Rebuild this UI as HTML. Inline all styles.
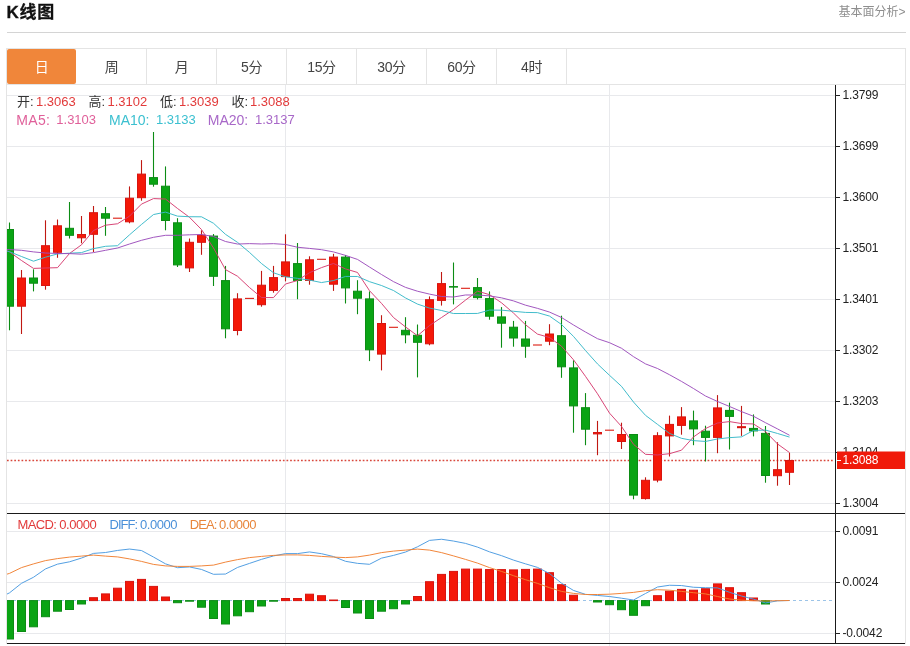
<!DOCTYPE html>
<html lang="zh-CN"><head><meta charset="utf-8"><title>K线图</title>
<style>
html,body{margin:0;padding:0;background:#fff;}
body{width:910px;height:646px;position:relative;overflow:hidden;font-family:"Liberation Sans","Noto Sans CJK SC",sans-serif;}
.abs{position:absolute;white-space:nowrap;}
.title{left:6.5px;top:0.5px;font-size:17px;letter-spacing:.7px;-webkit-text-stroke:.3px #111;font-weight:bold;color:#111;line-height:24px;}
.more{right:4.5px;top:3.5px;font-size:12px;color:#8e8e8e;line-height:16px;}
.hr{left:7px;top:32px;width:899px;height:1px;background:#d4d4d4;}
.tabs{left:6px;top:48px;width:898px;height:35px;border:1px solid #e4e4e4;border-bottom:1px solid #e4e4e4;box-sizing:content-box;}
.tab{position:absolute;top:0;height:35px;width:70px;box-sizing:border-box;border-right:1px solid #e4e4e4;text-align:center;line-height:36px;font-size:14px;color:#444;letter-spacing:-.4px}
.tab.on{background:#f0863a;color:#fff;border-right:none;border-radius:2px;top:-0.5px;height:35.5px;width:69px;line-height:37px}
.frame{left:6px;top:84px;width:898px;height:560px;border-left:1px solid #e4e4e4;border-right:1px solid #e4e4e4;}
.l1{top:93.7px;font-size:13px;line-height:16px;}
.l2{top:111.8px;font-size:13px;line-height:16px;}
.l3{top:516.5px;font-size:13px;line-height:16px;letter-spacing:-0.45px}
.lb{font-size:14px;letter-spacing:.3px}
.k{color:#333}.r{color:#e23a3a}.p{color:#e0609a}.c{color:#3cc0d0}.v{color:#a868c8}.b{color:#4a90d9}.o{color:#e8853a}
</style></head><body>
<div class="abs title">K线图</div>
<div class="abs more">基本面分析&gt;</div>
<div class="abs hr"></div>
<div class="abs frame"></div>
<div class="abs tabs">
<div class="tab on" style="left:0px">日</div>
<div class="tab" style="left:70px">周</div>
<div class="tab" style="left:140px">月</div>
<div class="tab" style="left:210px">5分</div>
<div class="tab" style="left:280px">15分</div>
<div class="tab" style="left:350px">30分</div>
<div class="tab" style="left:420px">60分</div>
<div class="tab" style="left:490px">4时</div>
</div>
<svg width="910" height="646" viewBox="0 0 910 646" style="position:absolute;left:0;top:0">
<defs><clipPath id="cp"><rect x="7" y="85" width="828" height="560"/></clipPath></defs>
<g stroke="#e8e9ec" stroke-width="1" shape-rendering="crispEdges"><line x1="7" y1="95.5" x2="835" y2="95.5"/><line x1="7" y1="146.5" x2="835" y2="146.5"/><line x1="7" y1="197.5" x2="835" y2="197.5"/><line x1="7" y1="248.5" x2="835" y2="248.5"/><line x1="7" y1="299.5" x2="835" y2="299.5"/><line x1="7" y1="350.5" x2="835" y2="350.5"/><line x1="7" y1="401.5" x2="835" y2="401.5"/><line x1="7" y1="452.5" x2="835" y2="452.5"/><line x1="7" y1="503.5" x2="835" y2="503.5"/><line x1="7" y1="531.5" x2="835" y2="531.5"/><line x1="7" y1="582.5" x2="835" y2="582.5"/><line x1="7" y1="633.5" x2="835" y2="633.5"/><line x1="285.5" y1="85" x2="285.5" y2="646"/><line x1="609.5" y1="85" x2="609.5" y2="646"/></g>
<line x1="7" y1="600.5" x2="835" y2="600.5" stroke="#9cc4e8" stroke-width="1" stroke-dasharray="3,3"/>
<line x1="7" y1="460.5" x2="834" y2="460.5" stroke="#d8463a" stroke-width="1.35" stroke-dasharray="1.7,1.93"/>
<g clip-path="url(#cp)"><line x1="9.5" y1="222.5" x2="9.5" y2="330.3" stroke="#0c8c14" stroke-width="1.1"/><rect x="5.5" y="229.5" width="8" height="76.7" fill="#0aa414" stroke="#0c8c14" stroke-width="1"/><line x1="21.5" y1="270" x2="21.5" y2="334" stroke="#c01812" stroke-width="1.1"/><rect x="17.5" y="278" width="8" height="28.2" fill="#f41808" stroke="#d81410" stroke-width="1"/><line x1="33.5" y1="269.3" x2="33.5" y2="291.4" stroke="#0c8c14" stroke-width="1.1"/><rect x="29.5" y="278" width="8" height="5.2" fill="#0aa414" stroke="#0c8c14" stroke-width="1"/><line x1="45.5" y1="220.3" x2="45.5" y2="289.7" stroke="#c01812" stroke-width="1.1"/><rect x="41.5" y="245.7" width="8" height="39.8" fill="#f41808" stroke="#d81410" stroke-width="1"/><line x1="57.5" y1="219.5" x2="57.5" y2="257.8" stroke="#c01812" stroke-width="1.1"/><rect x="53.5" y="225.8" width="8" height="26.5" fill="#f41808" stroke="#d81410" stroke-width="1"/><line x1="69.5" y1="202" x2="69.5" y2="238.5" stroke="#0c8c14" stroke-width="1.1"/><rect x="65.5" y="228.3" width="8" height="7" fill="#0aa414" stroke="#0c8c14" stroke-width="1"/><line x1="81.5" y1="216" x2="81.5" y2="243.3" stroke="#c01812" stroke-width="1.1"/><rect x="77.5" y="234.5" width="8" height="3.3" fill="#f41808" stroke="#d81410" stroke-width="1"/><line x1="93.5" y1="206" x2="93.5" y2="252" stroke="#c01812" stroke-width="1.1"/><rect x="89.5" y="212.7" width="8" height="21.6" fill="#f41808" stroke="#d81410" stroke-width="1"/><line x1="105.5" y1="207" x2="105.5" y2="235.8" stroke="#0c8c14" stroke-width="1.1"/><rect x="101.5" y="213.7" width="8" height="4.5" fill="#0aa414" stroke="#0c8c14" stroke-width="1"/><line x1="113" y1="218.2" x2="122" y2="218.2" stroke="#dc1c12" stroke-width="1.1"/><line x1="129.5" y1="186.4" x2="129.5" y2="223.3" stroke="#c01812" stroke-width="1.1"/><rect x="125.5" y="198.2" width="8" height="23.6" fill="#f41808" stroke="#d81410" stroke-width="1"/><line x1="141.5" y1="160.1" x2="141.5" y2="200.7" stroke="#c01812" stroke-width="1.1"/><rect x="137.5" y="174.1" width="8" height="23.6" fill="#f41808" stroke="#d81410" stroke-width="1"/><line x1="153.5" y1="132" x2="153.5" y2="186.7" stroke="#0c8c14" stroke-width="1.1"/><rect x="149.5" y="177.6" width="8" height="6.6" fill="#0aa414" stroke="#0c8c14" stroke-width="1"/><line x1="165.5" y1="166.4" x2="165.5" y2="230.3" stroke="#0c8c14" stroke-width="1.1"/><rect x="161.5" y="186.2" width="8" height="34.3" fill="#0aa414" stroke="#0c8c14" stroke-width="1"/><line x1="177.5" y1="218.2" x2="177.5" y2="267" stroke="#0c8c14" stroke-width="1.1"/><rect x="173.5" y="222.8" width="8" height="42.1" fill="#0aa414" stroke="#0c8c14" stroke-width="1"/><line x1="189.5" y1="238.5" x2="189.5" y2="272" stroke="#c01812" stroke-width="1.1"/><rect x="185.5" y="242.3" width="8" height="25.6" fill="#f41808" stroke="#d81410" stroke-width="1"/><line x1="201.5" y1="230.3" x2="201.5" y2="254.8" stroke="#c01812" stroke-width="1.1"/><rect x="197.5" y="235.3" width="8" height="7" fill="#f41808" stroke="#d81410" stroke-width="1"/><line x1="213.5" y1="234" x2="213.5" y2="286" stroke="#0c8c14" stroke-width="1.1"/><rect x="209.5" y="236.1" width="8" height="40.2" fill="#0aa414" stroke="#0c8c14" stroke-width="1"/><line x1="225.5" y1="265.9" x2="225.5" y2="338.3" stroke="#0c8c14" stroke-width="1.1"/><rect x="221.5" y="280.6" width="8" height="48.2" fill="#0aa414" stroke="#0c8c14" stroke-width="1"/><line x1="237.5" y1="293.2" x2="237.5" y2="335.3" stroke="#c01812" stroke-width="1.1"/><rect x="233.5" y="298.9" width="8" height="31.6" fill="#f41808" stroke="#d81410" stroke-width="1"/><line x1="245" y1="298.4" x2="254" y2="298.4" stroke="#dc1c12" stroke-width="1.1"/><line x1="261.5" y1="270.9" x2="261.5" y2="306.7" stroke="#c01812" stroke-width="1.1"/><rect x="257.5" y="285.2" width="8" height="19.5" fill="#f41808" stroke="#d81410" stroke-width="1"/><line x1="273.5" y1="265.9" x2="273.5" y2="292.7" stroke="#c01812" stroke-width="1.1"/><rect x="269.5" y="277.6" width="8" height="12.8" fill="#f41808" stroke="#d81410" stroke-width="1"/><line x1="285.5" y1="234.3" x2="285.5" y2="281.4" stroke="#c01812" stroke-width="1.1"/><rect x="281.5" y="261.9" width="8" height="14.7" fill="#f41808" stroke="#d81410" stroke-width="1"/><line x1="297.5" y1="243" x2="297.5" y2="299.2" stroke="#0c8c14" stroke-width="1.1"/><rect x="293.5" y="263.6" width="8" height="16.8" fill="#0aa414" stroke="#0c8c14" stroke-width="1"/><line x1="309.5" y1="256.3" x2="309.5" y2="284.7" stroke="#c01812" stroke-width="1.1"/><rect x="305.5" y="259.8" width="8" height="20.6" fill="#f41808" stroke="#d81410" stroke-width="1"/><line x1="317" y1="259.3" x2="326" y2="259.3" stroke="#dc1c12" stroke-width="1.1"/><line x1="333.5" y1="253.8" x2="333.5" y2="290.9" stroke="#c01812" stroke-width="1.1"/><rect x="329.5" y="257.1" width="8" height="27.1" fill="#f41808" stroke="#d81410" stroke-width="1"/><line x1="345.5" y1="255" x2="345.5" y2="303.5" stroke="#0c8c14" stroke-width="1.1"/><rect x="341.5" y="257.1" width="8" height="30.8" fill="#0aa414" stroke="#0c8c14" stroke-width="1"/><line x1="357.5" y1="280.2" x2="357.5" y2="314.2" stroke="#0c8c14" stroke-width="1.1"/><rect x="353.5" y="291.2" width="8" height="7" fill="#0aa414" stroke="#0c8c14" stroke-width="1"/><line x1="369.5" y1="291.4" x2="369.5" y2="361.1" stroke="#0c8c14" stroke-width="1.1"/><rect x="365.5" y="298.9" width="8" height="50.9" fill="#0aa414" stroke="#0c8c14" stroke-width="1"/><line x1="381.5" y1="315.2" x2="381.5" y2="370.4" stroke="#c01812" stroke-width="1.1"/><rect x="377.5" y="323.5" width="8" height="30.6" fill="#f41808" stroke="#d81410" stroke-width="1"/><line x1="389" y1="327.3" x2="398" y2="327.3" stroke="#dc1c12" stroke-width="1.1"/><line x1="405.5" y1="317.2" x2="405.5" y2="343.3" stroke="#0c8c14" stroke-width="1.1"/><rect x="401.5" y="330.3" width="8" height="4.5" fill="#0aa414" stroke="#0c8c14" stroke-width="1"/><line x1="417.5" y1="324.5" x2="417.5" y2="377.4" stroke="#0c8c14" stroke-width="1.1"/><rect x="413.5" y="335.3" width="8" height="7" fill="#0aa414" stroke="#0c8c14" stroke-width="1"/><line x1="429.5" y1="296.4" x2="429.5" y2="345.3" stroke="#c01812" stroke-width="1.1"/><rect x="425.5" y="299.7" width="8" height="44.1" fill="#f41808" stroke="#d81410" stroke-width="1"/><line x1="441.5" y1="272" x2="441.5" y2="305.6" stroke="#c01812" stroke-width="1.1"/><rect x="437.5" y="283.6" width="8" height="16.8" fill="#f41808" stroke="#d81410" stroke-width="1"/><line x1="453.5" y1="262.5" x2="453.5" y2="304.4" stroke="#0c8c14" stroke-width="1.1"/><rect x="449.5" y="286.6" width="8" height="0.5" fill="#0aa414" stroke="#0c8c14" stroke-width="1"/><line x1="461" y1="288.3" x2="470" y2="288.3" stroke="#dc1c12" stroke-width="1.1"/><line x1="477.5" y1="278" x2="477.5" y2="299.4" stroke="#0c8c14" stroke-width="1.1"/><rect x="473.5" y="287.6" width="8" height="10" fill="#0aa414" stroke="#0c8c14" stroke-width="1"/><line x1="489.5" y1="291.4" x2="489.5" y2="319.7" stroke="#0c8c14" stroke-width="1.1"/><rect x="485.5" y="298.6" width="8" height="17.6" fill="#0aa414" stroke="#0c8c14" stroke-width="1"/><line x1="501.5" y1="307.1" x2="501.5" y2="347.7" stroke="#0c8c14" stroke-width="1.1"/><rect x="497.5" y="316.9" width="8" height="6.3" fill="#0aa414" stroke="#0c8c14" stroke-width="1"/><line x1="513.5" y1="320.9" x2="513.5" y2="346.7" stroke="#0c8c14" stroke-width="1.1"/><rect x="509.5" y="327.2" width="8" height="10.8" fill="#0aa414" stroke="#0c8c14" stroke-width="1"/><line x1="525.5" y1="320.9" x2="525.5" y2="357.8" stroke="#0c8c14" stroke-width="1.1"/><rect x="521.5" y="339" width="8" height="7.2" fill="#0aa414" stroke="#0c8c14" stroke-width="1"/><line x1="533" y1="345" x2="542" y2="345" stroke="#dc1c12" stroke-width="1.1"/><line x1="549.5" y1="324.2" x2="549.5" y2="345.2" stroke="#c01812" stroke-width="1.1"/><rect x="545.5" y="334" width="8" height="7.2" fill="#f41808" stroke="#d81410" stroke-width="1"/><line x1="561.5" y1="315.7" x2="561.5" y2="377.8" stroke="#0c8c14" stroke-width="1.1"/><rect x="557.5" y="335.7" width="8" height="31.1" fill="#0aa414" stroke="#0c8c14" stroke-width="1"/><line x1="573.5" y1="360.3" x2="573.5" y2="432.7" stroke="#0c8c14" stroke-width="1.1"/><rect x="569.5" y="367.9" width="8" height="38" fill="#0aa414" stroke="#0c8c14" stroke-width="1"/><line x1="585.5" y1="393.1" x2="585.5" y2="445.2" stroke="#0c8c14" stroke-width="1.1"/><rect x="581.5" y="407.7" width="8" height="21.5" fill="#0aa414" stroke="#0c8c14" stroke-width="1"/><line x1="597.5" y1="420.9" x2="597.5" y2="455.2" stroke="#c01812" stroke-width="1.1"/><rect x="593.5" y="432.5" width="8" height="1.4" fill="#f41808" stroke="#d81410" stroke-width="1"/><line x1="605" y1="430.2" x2="614" y2="430.2" stroke="#dc1c12" stroke-width="1.1"/><line x1="621.5" y1="422.7" x2="621.5" y2="449" stroke="#c01812" stroke-width="1.1"/><rect x="617.5" y="434.5" width="8" height="7" fill="#f41808" stroke="#d81410" stroke-width="1"/><line x1="633.5" y1="434" x2="633.5" y2="499.3" stroke="#0c8c14" stroke-width="1.1"/><rect x="629.5" y="434.5" width="8" height="60.6" fill="#0aa414" stroke="#0c8c14" stroke-width="1"/><line x1="645.5" y1="477.3" x2="645.5" y2="499.6" stroke="#c01812" stroke-width="1.1"/><rect x="641.5" y="480.3" width="8" height="18.3" fill="#f41808" stroke="#d81410" stroke-width="1"/><line x1="657.5" y1="432.2" x2="657.5" y2="482.3" stroke="#c01812" stroke-width="1.1"/><rect x="653.5" y="435.7" width="8" height="44.4" fill="#f41808" stroke="#d81410" stroke-width="1"/><line x1="669.5" y1="415.6" x2="669.5" y2="456.5" stroke="#c01812" stroke-width="1.1"/><rect x="665.5" y="424.4" width="8" height="11.5" fill="#f41808" stroke="#d81410" stroke-width="1"/><line x1="681.5" y1="407.1" x2="681.5" y2="434.7" stroke="#c01812" stroke-width="1.1"/><rect x="677.5" y="416.9" width="8" height="8.5" fill="#f41808" stroke="#d81410" stroke-width="1"/><line x1="693.5" y1="410.6" x2="693.5" y2="445.2" stroke="#0c8c14" stroke-width="1.1"/><rect x="689.5" y="420.9" width="8" height="8" fill="#0aa414" stroke="#0c8c14" stroke-width="1"/><line x1="705.5" y1="425.7" x2="705.5" y2="461.5" stroke="#0c8c14" stroke-width="1.1"/><rect x="701.5" y="431.2" width="8" height="6.2" fill="#0aa414" stroke="#0c8c14" stroke-width="1"/><line x1="717.5" y1="395.1" x2="717.5" y2="453.2" stroke="#c01812" stroke-width="1.1"/><rect x="713.5" y="407.9" width="8" height="29.5" fill="#f41808" stroke="#d81410" stroke-width="1"/><line x1="729.5" y1="402.6" x2="729.5" y2="449.5" stroke="#0c8c14" stroke-width="1.1"/><rect x="725.5" y="410.4" width="8" height="6" fill="#0aa414" stroke="#0c8c14" stroke-width="1"/><line x1="741.5" y1="405.9" x2="741.5" y2="435.9" stroke="#c01812" stroke-width="1.1"/><rect x="737.5" y="426.7" width="8" height="1" fill="#f41808" stroke="#d81410" stroke-width="1"/><line x1="753.5" y1="414.4" x2="753.5" y2="436.4" stroke="#0c8c14" stroke-width="1.1"/><rect x="749.5" y="428.4" width="8" height="2.5" fill="#0aa414" stroke="#0c8c14" stroke-width="1"/><line x1="765.5" y1="426" x2="765.5" y2="482.7" stroke="#0c8c14" stroke-width="1.1"/><rect x="761.5" y="433.4" width="8" height="42.1" fill="#0aa414" stroke="#0c8c14" stroke-width="1"/><line x1="777.5" y1="442.2" x2="777.5" y2="485.7" stroke="#c01812" stroke-width="1.1"/><rect x="773.5" y="469.7" width="8" height="6" fill="#f41808" stroke="#d81410" stroke-width="1"/><line x1="789.5" y1="452.7" x2="789.5" y2="485" stroke="#c01812" stroke-width="1.1"/><rect x="785.5" y="460.5" width="8" height="11.8" fill="#f41808" stroke="#d81410" stroke-width="1"/><rect x="5.5" y="600.6" width="8" height="38.4" fill="#0aa414" stroke="#0c8c14" stroke-width="1"/><rect x="17.5" y="600.6" width="8" height="30.9" fill="#0aa414" stroke="#0c8c14" stroke-width="1"/><rect x="29.5" y="600.6" width="8" height="26.2" fill="#0aa414" stroke="#0c8c14" stroke-width="1"/><rect x="41.5" y="600.6" width="8" height="16.1" fill="#0aa414" stroke="#0c8c14" stroke-width="1"/><rect x="53.5" y="600.6" width="8" height="10.6" fill="#0aa414" stroke="#0c8c14" stroke-width="1"/><rect x="65.5" y="600.6" width="8" height="8.9" fill="#0aa414" stroke="#0c8c14" stroke-width="1"/><rect x="77.5" y="600.6" width="8" height="3.4" fill="#0aa414" stroke="#0c8c14" stroke-width="1"/><rect x="89.5" y="597.7" width="8" height="2.9" fill="#f41808" stroke="#d81410" stroke-width="1"/><rect x="101.5" y="593.9" width="8" height="6.7" fill="#f41808" stroke="#d81410" stroke-width="1"/><rect x="113.5" y="588.2" width="8" height="12.4" fill="#f41808" stroke="#d81410" stroke-width="1"/><rect x="125.5" y="581.4" width="8" height="19.2" fill="#f41808" stroke="#d81410" stroke-width="1"/><rect x="137.5" y="579.4" width="8" height="21.2" fill="#f41808" stroke="#d81410" stroke-width="1"/><rect x="149.5" y="586.4" width="8" height="14.2" fill="#f41808" stroke="#d81410" stroke-width="1"/><rect x="161.5" y="597" width="8" height="3.6" fill="#f41808" stroke="#d81410" stroke-width="1"/><rect x="173.5" y="600.6" width="8" height="2.1" fill="#0aa414" stroke="#0c8c14" stroke-width="1"/><rect x="185.5" y="600.6" width="8" height="0.6" fill="#0aa414" stroke="#0c8c14" stroke-width="1"/><rect x="197.5" y="600.6" width="8" height="6.6" fill="#0aa414" stroke="#0c8c14" stroke-width="1"/><rect x="209.5" y="600.6" width="8" height="17.9" fill="#0aa414" stroke="#0c8c14" stroke-width="1"/><rect x="221.5" y="600.6" width="8" height="23.4" fill="#0aa414" stroke="#0c8c14" stroke-width="1"/><rect x="233.5" y="600.6" width="8" height="15.2" fill="#0aa414" stroke="#0c8c14" stroke-width="1"/><rect x="245.5" y="600.6" width="8" height="11.1" fill="#0aa414" stroke="#0c8c14" stroke-width="1"/><rect x="257.5" y="600.6" width="8" height="5.4" fill="#0aa414" stroke="#0c8c14" stroke-width="1"/><rect x="269.5" y="600.6" width="8" height="0.6" fill="#0aa414" stroke="#0c8c14" stroke-width="1"/><rect x="281.5" y="598.5" width="8" height="2.1" fill="#f41808" stroke="#d81410" stroke-width="1"/><rect x="293.5" y="598.5" width="8" height="2.1" fill="#f41808" stroke="#d81410" stroke-width="1"/><rect x="305.5" y="594.2" width="8" height="6.4" fill="#f41808" stroke="#d81410" stroke-width="1"/><rect x="317.5" y="595.7" width="8" height="4.9" fill="#f41808" stroke="#d81410" stroke-width="1"/><rect x="329.5" y="600" width="8" height="0.6" fill="#f41808" stroke="#d81410" stroke-width="1"/><rect x="341.5" y="600.6" width="8" height="6.9" fill="#0aa414" stroke="#0c8c14" stroke-width="1"/><rect x="353.5" y="600.6" width="8" height="12.4" fill="#0aa414" stroke="#0c8c14" stroke-width="1"/><rect x="365.5" y="600.6" width="8" height="17.9" fill="#0aa414" stroke="#0c8c14" stroke-width="1"/><rect x="377.5" y="600.6" width="8" height="10.6" fill="#0aa414" stroke="#0c8c14" stroke-width="1"/><rect x="389.5" y="600.6" width="8" height="8.1" fill="#0aa414" stroke="#0c8c14" stroke-width="1"/><rect x="401.5" y="600.6" width="8" height="3.4" fill="#0aa414" stroke="#0c8c14" stroke-width="1"/><rect x="413.5" y="596.5" width="8" height="4.1" fill="#f41808" stroke="#d81410" stroke-width="1"/><rect x="425.5" y="581.7" width="8" height="18.9" fill="#f41808" stroke="#d81410" stroke-width="1"/><rect x="437.5" y="574.4" width="8" height="26.2" fill="#f41808" stroke="#d81410" stroke-width="1"/><rect x="449.5" y="571.4" width="8" height="29.2" fill="#f41808" stroke="#d81410" stroke-width="1"/><rect x="461.5" y="569.1" width="8" height="31.5" fill="#f41808" stroke="#d81410" stroke-width="1"/><rect x="473.5" y="569.1" width="8" height="31.5" fill="#f41808" stroke="#d81410" stroke-width="1"/><rect x="485.5" y="569.6" width="8" height="31" fill="#f41808" stroke="#d81410" stroke-width="1"/><rect x="497.5" y="569.6" width="8" height="31" fill="#f41808" stroke="#d81410" stroke-width="1"/><rect x="509.5" y="569.9" width="8" height="30.7" fill="#f41808" stroke="#d81410" stroke-width="1"/><rect x="521.5" y="569.4" width="8" height="31.2" fill="#f41808" stroke="#d81410" stroke-width="1"/><rect x="533.5" y="569.1" width="8" height="31.5" fill="#f41808" stroke="#d81410" stroke-width="1"/><rect x="545.5" y="572.7" width="8" height="27.9" fill="#f41808" stroke="#d81410" stroke-width="1"/><rect x="557.5" y="584.7" width="8" height="15.9" fill="#f41808" stroke="#d81410" stroke-width="1"/><rect x="569.5" y="595.2" width="8" height="5.4" fill="#f41808" stroke="#d81410" stroke-width="1"/><rect x="593.5" y="600.6" width="8" height="1.4" fill="#0aa414" stroke="#0c8c14" stroke-width="1"/><rect x="605.5" y="600.6" width="8" height="4.1" fill="#0aa414" stroke="#0c8c14" stroke-width="1"/><rect x="617.5" y="600.6" width="8" height="9.1" fill="#0aa414" stroke="#0c8c14" stroke-width="1"/><rect x="629.5" y="600.6" width="8" height="14.7" fill="#0aa414" stroke="#0c8c14" stroke-width="1"/><rect x="641.5" y="600.6" width="8" height="5.1" fill="#0aa414" stroke="#0c8c14" stroke-width="1"/><rect x="653.5" y="595.7" width="8" height="4.9" fill="#f41808" stroke="#d81410" stroke-width="1"/><rect x="665.5" y="591.2" width="8" height="9.4" fill="#f41808" stroke="#d81410" stroke-width="1"/><rect x="677.5" y="589.4" width="8" height="11.2" fill="#f41808" stroke="#d81410" stroke-width="1"/><rect x="689.5" y="590.2" width="8" height="10.4" fill="#f41808" stroke="#d81410" stroke-width="1"/><rect x="701.5" y="588.7" width="8" height="11.9" fill="#f41808" stroke="#d81410" stroke-width="1"/><rect x="713.5" y="583.9" width="8" height="16.7" fill="#f41808" stroke="#d81410" stroke-width="1"/><rect x="725.5" y="587.7" width="8" height="12.9" fill="#f41808" stroke="#d81410" stroke-width="1"/><rect x="737.5" y="592.7" width="8" height="7.9" fill="#f41808" stroke="#d81410" stroke-width="1"/><rect x="749.5" y="598" width="8" height="2.6" fill="#f41808" stroke="#d81410" stroke-width="1"/><rect x="761.5" y="600.6" width="8" height="3.4" fill="#0aa414" stroke="#0c8c14" stroke-width="1"/><polyline points="-2.5,246.74 9.5,251.9 21.5,260.5 33.5,268.4 45.5,268 57.5,267.68 69.5,253.5 81.5,244.8 93.5,230.5 105.5,225.2 117.5,223.78 129.5,216.16 141.5,204.08 153.5,198.58 165.5,199.04 177.5,208.48 189.5,217.3 201.5,229.54 213.5,247.96 225.5,269.62 237.5,276.22 249.5,287.54 261.5,297.52 273.5,297.58 285.5,284 297.5,280.5 309.5,272.68 321.5,267.6 333.5,263.5 345.5,268.9 357.5,272.46 369.5,290.66 381.5,303.4 393.5,317.54 405.5,326.92 417.5,335.74 429.5,325.52 441.5,317.54 453.5,309.5 465.5,300.1 477.5,291.16 489.5,294.66 501.5,302.78 513.5,313.06 525.5,324.74 537.5,334.12 549.5,337.48 561.5,346.2 573.5,359.78 585.5,376.38 597.5,393.78 609.5,413.12 621.5,426.46 633.5,444.3 645.5,454.32 657.5,454.96 669.5,453.7 681.5,450.18 693.5,436.94 705.5,428.56 717.5,423 729.5,421.6 741.5,423.56 753.5,423.96 765.5,431.58 777.5,443.94 789.5,452.56" fill="none" stroke="#d63c70" stroke-width="1.0" stroke-linejoin="round" opacity="0.95"/><polyline points="-2.5,248.82 9.5,251.7 21.5,256.5 33.5,261.2 45.5,257.2 57.5,253.9 69.5,253.2 81.5,252.6 93.5,248.6 105.5,246.3 117.5,245.73 129.5,234.83 141.5,224.44 153.5,214.54 165.5,212.12 177.5,216.13 189.5,216.73 201.5,216.81 213.5,223.27 225.5,234.33 237.5,242.35 249.5,252.42 261.5,263.53 273.5,272.77 285.5,276.81 297.5,278.36 309.5,280.11 321.5,282.56 333.5,280.54 345.5,276.45 357.5,276.48 369.5,281.67 381.5,285.5 393.5,290.52 405.5,297.91 417.5,304.1 429.5,308.09 441.5,310.47 453.5,313.52 465.5,313.51 477.5,313.45 489.5,310.09 501.5,310.16 513.5,311.28 525.5,312.42 537.5,312.64 549.5,316.07 561.5,324.49 573.5,336.42 585.5,350.56 597.5,363.95 609.5,375.3 621.5,386.33 633.5,402.04 645.5,415.35 657.5,424.37 669.5,433.41 681.5,438.32 693.5,440.62 705.5,441.44 717.5,438.98 729.5,437.65 741.5,436.87 753.5,430.45 765.5,430.07 777.5,433.47 789.5,437.08" fill="none" stroke="#38b8c8" stroke-width="1.0" stroke-linejoin="round" opacity="0.95"/><polyline points="-2.5,249.18 9.5,249.6 21.5,250.3 33.5,251.9 45.5,253 57.5,253.5 69.5,253.6 81.5,254.2 93.5,252.6 105.5,250.3 117.5,248 129.5,244 141.5,240.3 153.5,237.3 165.5,235.3 177.5,235.3 189.5,234.8 201.5,234.5 213.5,236.5 225.5,241.5 237.5,244.04 249.5,243.62 261.5,243.98 273.5,243.66 285.5,244.46 297.5,247.24 309.5,248.42 321.5,249.69 333.5,251.91 345.5,255.39 357.5,259.42 369.5,267.04 381.5,274.51 393.5,281.64 405.5,287.36 417.5,291.23 429.5,294.1 441.5,296.51 453.5,297.03 465.5,294.98 477.5,294.97 489.5,295.88 501.5,297.83 513.5,300.9 525.5,305.17 537.5,308.37 549.5,312.08 561.5,317.48 573.5,324.97 585.5,332.03 597.5,338.7 609.5,342.69 621.5,348.25 633.5,356.66 645.5,363.88 657.5,368.5 669.5,374.74 681.5,381.41 693.5,388.52 705.5,396 717.5,401.47 729.5,406.48 741.5,411.6 753.5,416.25 765.5,422.71 777.5,428.92 789.5,435.25" fill="none" stroke="#9c4ebc" stroke-width="1.0" stroke-linejoin="round" opacity="0.95"/><polyline points="-2.5,598.58 9.5,592.85 21.5,583.3 33.5,577.25 45.5,568.9 57.5,564.15 69.5,561.8 81.5,558.05 93.5,553.4 105.5,552.5 117.5,550.45 129.5,549.05 141.5,550.55 153.5,557.05 165.5,563.85 177.5,567.7 189.5,566.95 201.5,569.45 213.5,574.3 225.5,574.05 237.5,567.45 249.5,563.4 261.5,559.35 273.5,555.95 285.5,553.6 297.5,553.6 309.5,551.95 321.5,553.7 333.5,556.55 345.5,561.3 357.5,563.35 369.5,564.3 381.5,558.15 393.5,555.4 405.5,552.05 417.5,546.8 429.5,540.4 441.5,539.25 453.5,541.05 465.5,543.4 477.5,547.1 489.5,551.85 501.5,555.65 513.5,560.1 525.5,563.85 537.5,567.4 549.5,573.5 561.5,583.2 573.5,590.45 585.5,594.35 597.5,595.45 609.5,596.5 621.5,598.2 633.5,600 645.5,593.5 657.5,587 669.5,585.25 681.5,585.55 693.5,587.25 705.5,587.7 717.5,587.9 729.5,592.3 741.5,596 753.5,599.15 765.5,602.95 777.5,600.85 789.5,600.5" fill="none" stroke="#4a9ae0" stroke-width="1.0" stroke-linejoin="round" opacity="0.95"/><polyline points="-2.5,576.88 9.5,573.4 21.5,567.6 33.5,563.9 45.5,560.6 57.5,558.6 69.5,557.1 81.5,556.1 93.5,555.1 105.5,556.1 117.5,556.9 129.5,558.9 141.5,561.4 153.5,564.4 165.5,565.9 177.5,566.4 189.5,566.4 201.5,565.9 213.5,565.1 225.5,562.1 237.5,559.6 249.5,557.6 261.5,556.4 273.5,555.4 285.5,554.9 297.5,554.9 309.5,555.4 321.5,556.4 333.5,557.1 345.5,557.6 357.5,556.9 369.5,555.1 381.5,552.6 393.5,551.1 405.5,550.1 417.5,549.1 429.5,550.1 441.5,552.6 453.5,555.9 465.5,559.4 477.5,563.1 489.5,567.6 501.5,571.4 513.5,575.7 525.5,579.7 537.5,583.4 549.5,587.7 561.5,591.4 573.5,593.4 585.5,594.5 597.5,594.5 609.5,594.2 621.5,593.4 633.5,592.4 645.5,590.7 657.5,589.7 669.5,590.2 681.5,591.4 693.5,592.7 705.5,593.9 717.5,596.5 729.5,599 741.5,600.2 753.5,600.7 765.5,601 777.5,600.7 789.5,600.5" fill="none" stroke="#f08030" stroke-width="1.0" stroke-linejoin="round" opacity="0.95"/></g>
<g stroke="#1a1a1a" stroke-width="1" shape-rendering="crispEdges"><line x1="835.5" y1="85" x2="835.5" y2="644"/><line x1="7" y1="513.5" x2="905" y2="513.5"/><line x1="7" y1="643.5" x2="905" y2="643.5"/></g>
<g stroke="#222" stroke-width="1" shape-rendering="crispEdges"><line x1="835" y1="95.5" x2="840" y2="95.5"/><line x1="835" y1="146.5" x2="840" y2="146.5"/><line x1="835" y1="197.5" x2="840" y2="197.5"/><line x1="835" y1="248.5" x2="840" y2="248.5"/><line x1="835" y1="299.5" x2="840" y2="299.5"/><line x1="835" y1="350.5" x2="840" y2="350.5"/><line x1="835" y1="401.5" x2="840" y2="401.5"/><line x1="835" y1="452.5" x2="840" y2="452.5"/><line x1="835" y1="503.5" x2="840" y2="503.5"/><line x1="835" y1="531.5" x2="840" y2="531.5"/><line x1="835" y1="582.5" x2="840" y2="582.5"/><line x1="835" y1="633.5" x2="840" y2="633.5"/></g>
<g font-family="Liberation Sans, sans-serif" font-size="12" letter-spacing="-0.15" fill="#222"><text x="842.5" y="99.3">1.3799</text><text x="842.5" y="150.3">1.3699</text><text x="842.5" y="201.3">1.3600</text><text x="842.5" y="252.3">1.3501</text><text x="842.5" y="303.3">1.3401</text><text x="842.5" y="354.3">1.3302</text><text x="842.5" y="405.3">1.3203</text><text x="842.5" y="456.3">1.3104</text><text x="842.5" y="507.3">1.3004</text><text x="842.5" y="535.3">0.0091</text><text x="842.5" y="586.3">0.0024</text><text x="842.5" y="637.3">-0.0042</text></g>
<rect x="837" y="451.5" width="68" height="17.5" fill="#f01a0a"/>
<line x1="837" y1="460.5" x2="840.5" y2="460.5" stroke="#fff" stroke-width="1" shape-rendering="crispEdges"/>
<text x="842.5" y="464.4" font-family="Liberation Sans, sans-serif" font-size="12" letter-spacing="-0.15" fill="#fff">1.3088</text>
</svg>
<span class="abs l1 k" style="left:17px">开:</span><span class="abs l1 r" style="left:36px">1.3063</span>
<span class="abs l1 k" style="left:88.5px">高:</span><span class="abs l1 r" style="left:107.5px">1.3102</span>
<span class="abs l1 k" style="left:160px">低:</span><span class="abs l1 r" style="left:179px">1.3039</span>
<span class="abs l1 k" style="left:231.5px">收:</span><span class="abs l1 r" style="left:250px">1.3088</span>
<span class="abs l2 p lb" style="left:16.3px">MA5:</span><span class="abs l2 p" style="left:56.3px">1.3103</span>
<span class="abs l2 c lb" style="left:109px;letter-spacing:0">MA10:</span><span class="abs l2 c" style="left:156px">1.3133</span>
<span class="abs l2 v lb" style="left:207.8px;letter-spacing:0">MA20:</span><span class="abs l2 v" style="left:255px">1.3137</span>
<span class="abs l3 r" style="left:17.5px;letter-spacing:-.65px">MACD:</span><span class="abs l3 r" style="left:59.3px">0.0000</span>
<span class="abs l3 b" style="left:109.6px;letter-spacing:-1px">DIFF:</span><span class="abs l3 b" style="left:140px">0.0000</span>
<span class="abs l3 o" style="left:189.8px;letter-spacing:-.9px">DEA:</span><span class="abs l3 o" style="left:219px">0.0000</span>
</body></html>
